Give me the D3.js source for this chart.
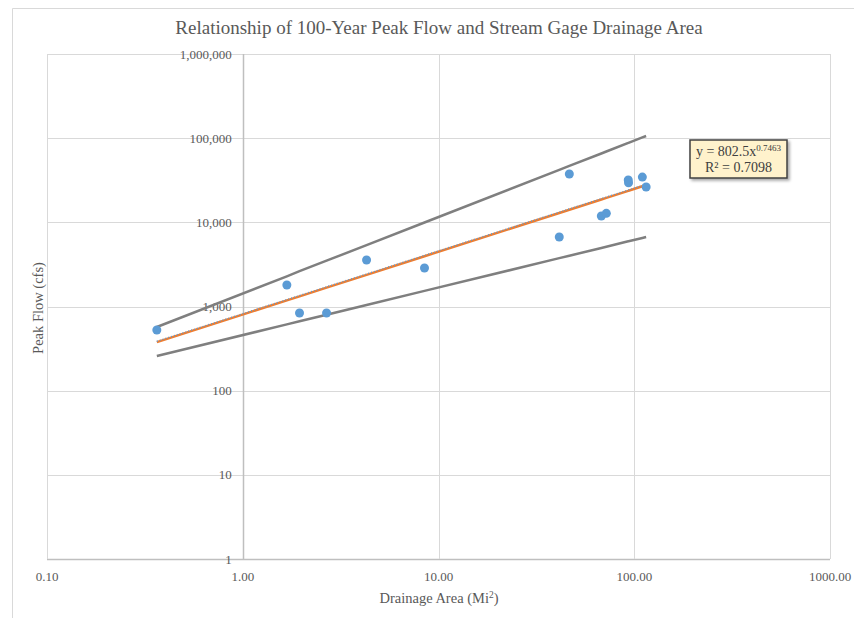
<!DOCTYPE html>
<html>
<head>
<meta charset="utf-8">
<script src="https://cdn.jsdelivr.net/npm/d3@7"></script>
<style>
  body { margin: 0; background: #fff; }
  svg text { font-family: "Liberation Serif", "Times New Roman", serif; fill: #595959; }
</style>
</head>
<body>
<div id="container"></div>
<script>
// gage data, sorted by drainage area
var areas = [0.364, 1.68, 1.95, 2.68, 4.29, 8.48, 41.4, 46.6, 67.9, 72.0, 93.2, 93.5, 110, 115];
var peaks = [526, 1800, 837, 837, 3570, 2870, 6700, 37500, 11900, 12800, 31800, 29500, 34500, 26300];
// upper and lower bounds
var upper = [571, 2285, 2626, 3500, 5360, 9960, 42100, 46800, 65700, 69400, 87800, 88200, 102000, 106000];
var lower = [258, 613, 667, 798, 1042, 1532, 3757, 4011, 4963, 5128, 5950, 5960, 6530, 6700];
var coefA = 802.5;
var coefB = 0.7463;
var xTicks = [0.1, 1, 10, 100, 1000];
var yTicks = [1, 10, 100, 1000, 10000, 100000, 1000000];

var width = 854, height = 618;
var plotL = 47, plotR = 830, plotT = 54, plotB = 559;

var svg = d3.select('#container').append('svg')
    .attr('width', width)
    .attr('height', height);

// chart area border
svg.append('path')
    .attr('d', 'M12.5,618 V8.5 H854')
    .attr('fill', 'none')
    .attr('stroke', '#d9d9d9');

var x = d3.scaleLog().domain([0.1, 1000]).range([plotL, plotR]);
var y = d3.scaleLog().domain([1, 1000000]).range([plotB, plotT]);

// grid
svg.append('g').selectAll('line')
    .data(yTicks)
    .enter().append('line')
    .attr('x1', plotL).attr('x2', plotR)
    .attr('y1', function(d) { return Math.round(y(d)) + 0.5; })
    .attr('y2', function(d) { return Math.round(y(d)) + 0.5; })
    .attr('stroke', function(d) { return d == 1 ? '#bfbfbf' : '#d9d9d9'; })
    .attr('stroke-width', function(d) { return d == 1 ? 1.5 : 1; });

svg.append('g').selectAll('line')
    .data(xTicks)
    .enter().append('line')
    .attr('y1', plotT).attr('y2', plotB)
    .attr('x1', function(d) { return Math.round(x(d)) + 0.5; })
    .attr('x2', function(d) { return Math.round(x(d)) + 0.5; })
    .attr('stroke', function(d) { return d == 1 ? '#bfbfbf' : '#d9d9d9'; })
    .attr('stroke-width', function(d) { return d == 1 ? 1.5 : 1; });

// tick labels (y axis crosses at x = 1)
svg.append('g').selectAll('text')
    .data(yTicks)
    .enter().append('text')
    .attr('x', x(1) - 11)
    .attr('y', function(d) { return y(d); })
    .attr('dy', '0.35em')
    .attr('text-anchor', 'end')
    .style('font-size', '13px')
    .text(d3.format(','));

svg.append('g').selectAll('text')
    .data(xTicks)
    .enter().append('text')
    .attr('x', function(d) { return x(d); })
    .attr('y', 581)
    .attr('text-anchor', 'middle')
    .style('font-size', '13px')
    .text(d3.format('.2f'));

// titles
svg.append('text')
    .attr('x', 439).attr('y', 34)
    .attr('text-anchor', 'middle')
    .style('font-size', '19px')
    .text('Relationship of 100-Year Peak Flow and Stream Gage Drainage Area');

var xl = svg.append('text')
    .attr('x', 439).attr('y', 603)
    .attr('text-anchor', 'middle')
    .style('font-size', '14.5px');
xl.append('tspan').text('Drainage Area (Mi');
xl.append('tspan').attr('dy', -5).style('font-size', '9.5px').text('2');
xl.append('tspan').attr('dy', 5).text(')');

svg.append('text')
    .attr('transform', 'translate(43,308) rotate(-90)')
    .attr('text-anchor', 'middle')
    .style('font-size', '14.5px')
    .text('Peak Flow (cfs)');

// bounds
var line = function(vals) {
    return d3.line()
        .x(function(d, i) { return x(areas[i]); })
        .y(function(d) { return y(d); })(vals);
};

svg.append('path').attr('d', line(upper))
    .attr('fill', 'none').attr('stroke', '#7f7f7f').attr('stroke-width', 2.5);
svg.append('path').attr('d', line(lower))
    .attr('fill', 'none').attr('stroke', '#7f7f7f').attr('stroke-width', 2.5);

// fitted power curve
var fitted = areas.map(function(a) { return coefA * Math.pow(a, coefB); });
svg.append('path').attr('d', line(fitted))
    .attr('fill', 'none').attr('stroke', '#ed7d31').attr('stroke-width', 2.5);
svg.append('path').attr('d', line(fitted))
    .attr('fill', 'none').attr('stroke', '#5b9bd5').attr('stroke-width', 1.5)
    .attr('stroke-dasharray', '1,2')
    .attr('transform', 'translate(0,-0.8)');

// points
svg.append('g').selectAll('circle')
    .data(peaks)
    .enter().append('circle')
    .attr('cx', function(d, i) { return x(areas[i]); })
    .attr('cy', function(d) { return y(d); })
    .attr('r', 4.5)
    .attr('fill', '#5b9bd5');

// equation label
var defs = svg.append('defs');
var f = defs.append('filter').attr('id', 'shadow').attr('x', '-20%').attr('y', '-20%')
    .attr('width', '150%').attr('height', '150%');
f.append('feDropShadow').attr('dx', 2).attr('dy', 2).attr('stdDeviation', 1.5)
    .attr('flood-color', '#000').attr('flood-opacity', 0.35);

var box = svg.append('g').attr('transform', 'translate(690,140)');
box.append('rect')
    .attr('width', 97).attr('height', 38)
    .attr('fill', '#fff2cc')
    .attr('stroke', '#404040').attr('stroke-width', 1.5)
    .attr('filter', 'url(#shadow)');
var eq = box.append('text').attr('x', 48.5).attr('y', 16)
    .attr('text-anchor', 'middle').style('font-size', '14px').style('fill', '#404040');
eq.append('tspan').text('y = ' + coefA + 'x');
eq.append('tspan').attr('dy', -5).style('font-size', '9px').text(coefB);
box.append('text').attr('x', 48.5).attr('y', 32)
    .attr('text-anchor', 'middle').style('font-size', '14px').style('fill', '#404040')
    .text('R\u00b2 = 0.7098');
</script>
</body>
</html>
